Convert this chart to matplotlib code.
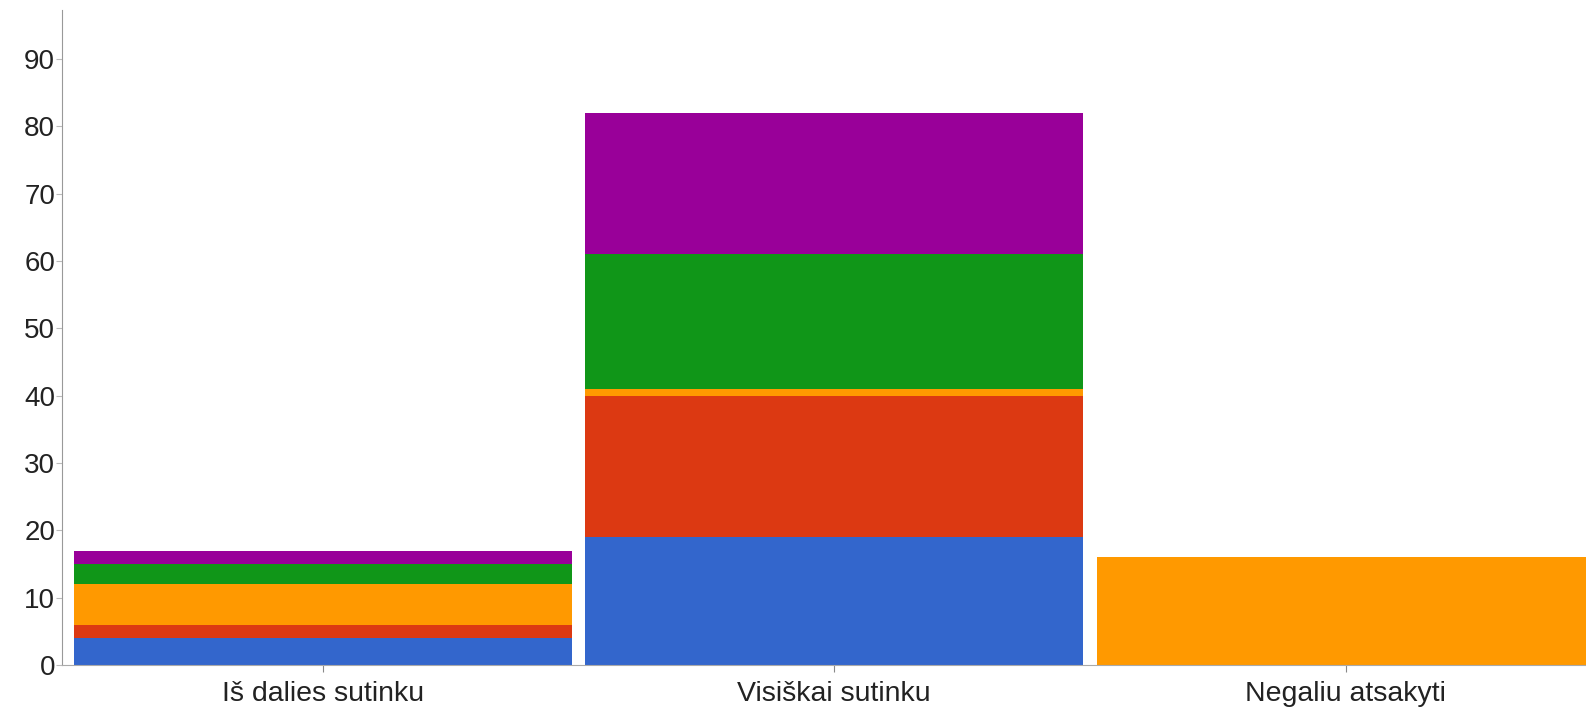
import numpy as np
import matplotlib.pyplot as plt

plt.rcParams['font.family'] = ['Liberation Sans', 'DejaVu Sans']

# Categories and stacked series
categories = ['Iš dalies sutinku', 'Visiškai sutinku', 'Negaliu atsakyti']
s1 = [4, 19, 0]     # blue
s2 = [2, 21, 0]     # red
s3 = [6, 1, 16]     # orange
s4 = [3, 20, 0]     # green
s5 = [2, 21, 0]     # purple
series = [s1, s2, s3, s4, s5]
colors = ['#3366cc', '#dc3912', '#ff9900', '#109618', '#990099']
yticks = [0, 10, 20, 30, 40, 50, 60, 70, 80, 90]

fig = plt.figure(figsize=(15.86, 7.07), dpi=100)
ax = fig.add_axes([62/1586, 1 - 665/707, 1 - 62/1586, (665 - 10)/707])

x = np.arange(len(categories))
bottom = np.zeros(len(categories))
for vals, c in zip(series, colors):
    vals = np.array(vals, dtype=float)
    ax.bar(x, vals, width=0.973, bottom=bottom, color=c,
           edgecolor='none', linewidth=0)
    bottom += vals

ax.set_xlim(-0.51, 2.47)
ax.set_ylim(0, 97.3)
ax.set_xticks(x)
ax.set_xticklabels(categories, fontsize=20.5, color='#222222')
ax.set_yticks(yticks)
ax.set_yticklabels([str(v) for v in yticks], fontsize=20, color='#222222')
ax.tick_params(axis='y', length=4, width=0.8, color='#bbbbbb', pad=1)
ax.tick_params(axis='x', length=5, width=0.8, color='#888888', pad=6.5)

for side in ['top', 'right']:
    ax.spines[side].set_visible(False)
ax.spines['left'].set_color('#999999')
ax.spines['bottom'].set_color('#aaaaaa')
ax.spines['left'].set_linewidth(0.8)
ax.spines['bottom'].set_linewidth(0.8)

fig.savefig('out.png', dpi=100)
